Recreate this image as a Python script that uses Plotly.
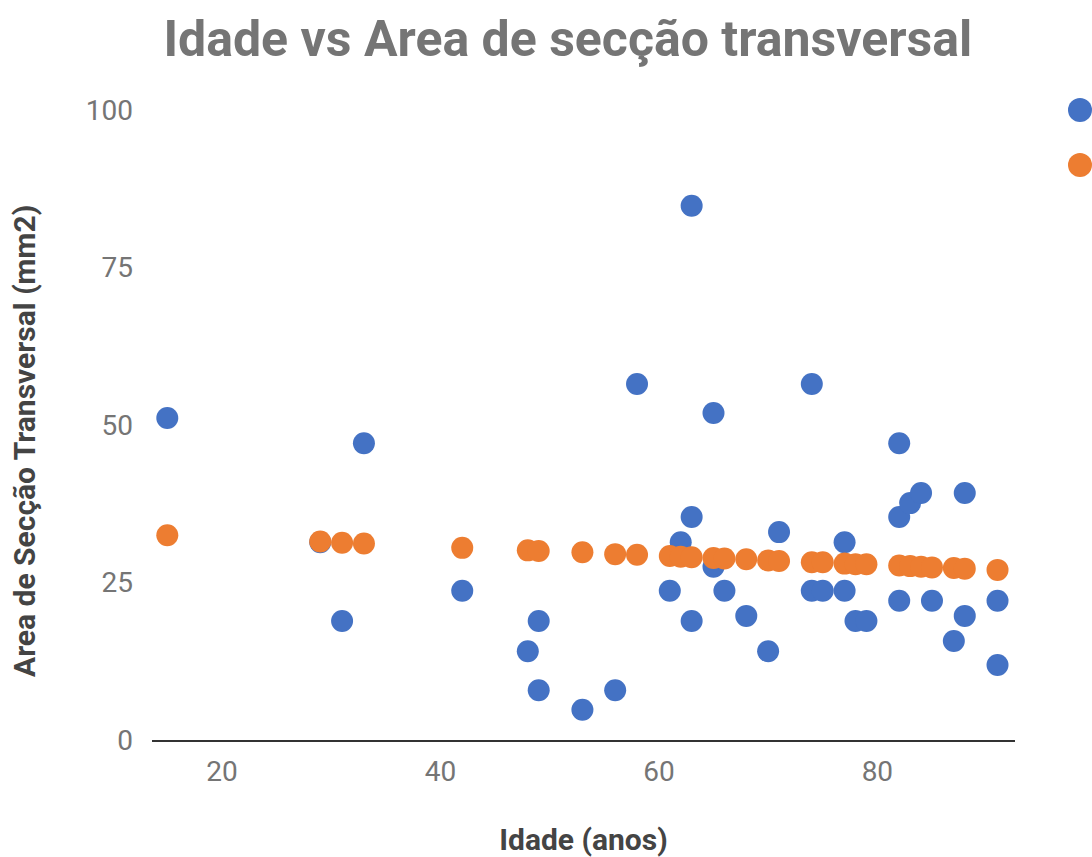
import plotly.graph_objects as go

# Blue series: age (anos) vs area (mm2)
idade = [15, 29, 31, 33, 42, 48, 49, 49, 53, 56, 58, 61, 62, 63, 63, 63, 65, 65, 66, 68,
         70, 71, 74, 74, 75, 77, 77, 78, 79, 82, 82, 82, 83, 84, 85, 87, 88, 88, 91, 91]
area = [51.1, 31.4, 18.9, 47.1, 23.7, 14.1, 18.9, 7.9, 4.8, 7.9, 56.5, 23.7, 31.4, 35.4, 84.8, 18.9,
        51.9, 27.5, 23.7, 19.7, 14.1, 33.0, 56.5, 23.7, 23.7, 31.4, 23.7, 18.9, 18.9, 47.1, 35.4,
        22.1, 37.6, 39.2, 22.1, 15.7, 39.2, 19.7, 22.1, 11.9]

# Orange series: trend values per age
idade_tend = [15, 29, 31, 33, 42, 48, 49, 53, 56, 58, 61, 62, 63, 65, 66, 68, 70, 71, 74, 75,
              77, 78, 79, 82, 83, 84, 85, 87, 88, 91]
area_tend = [32.5, 31.5, 31.3, 31.2, 30.5, 30.1, 30.0, 29.8, 29.5, 29.4, 29.2, 29.1, 29.0, 28.9,
             28.8, 28.7, 28.5, 28.4, 28.2, 28.2, 28.0, 27.9, 27.9, 27.7, 27.6, 27.5, 27.4, 27.3,
             27.2, 27.0]

y_ticks = [0, 25, 50, 75, 100]
x_ticks = [20, 40, 60, 80]

BLUE = "#4472C4"
ORANGE = "#ED7D31"

W, H = 1092, 857
ML, MR, MT, MB = 152, 77, 110, 117
PW, PH = W - ML - MR, H - MT - MB

fig = go.Figure()
fig.add_trace(go.Scatter(
    x=idade, y=area, mode="markers", name="Area",
    marker=dict(color=BLUE, size=22, line=dict(width=0)),
))
fig.add_trace(go.Scatter(
    x=idade_tend, y=area_tend, mode="markers", name="Tend",
    marker=dict(color=ORANGE, size=22, line=dict(width=0)),
))

# Legend symbols (legend text lies outside the visible canvas, as in the reference)
def legend_dot(cx_px, cy_px, color, r=12):
    return dict(
        type="circle", xref="paper", yref="paper",
        x0=(cx_px - r - ML) / PW, x1=(cx_px + r - ML) / PW,
        y0=(H - MB - cy_px - r) / PH, y1=(H - MB - cy_px + r) / PH,
        fillcolor=color, line=dict(width=0), layer="above",
    )

fig.update_layout(
    width=W, height=H,
    paper_bgcolor="white", plot_bgcolor="white",
    font=dict(family="Roboto, sans-serif", color="#757575"),
    title=dict(
        text="<b>Idade vs Area de secção transversal</b>",
        font=dict(size=50, color="#757575", family="Roboto, sans-serif"),
        x=0.52, xanchor="center", xref="container",
        y=1 - 38 / H, yanchor="middle", yref="container",
    ),
    margin=dict(l=ML, r=MR, t=MT, b=MB, autoexpand=False),
    showlegend=False,
    shapes=[legend_dot(1080, 110, BLUE), legend_dot(1080, 165, ORANGE)],
    annotations=[dict(
        text="<b>Area de Secção Transversal (mm2)</b>", textangle=-90,
        xref="paper", yref="paper",
        x=(24 - ML) / PW, y=(H - MB - 441) / PH,
        xanchor="center", yanchor="middle", showarrow=False,
        font=dict(size=30, color="#444444", family="Roboto, sans-serif"),
    )],
    xaxis=dict(
        range=[13.6, 92.6], tickvals=x_ticks, ticktext=[str(v) for v in x_ticks],
        showgrid=False, zeroline=False,
        showline=True, linecolor="#333333", linewidth=2,
        ticks="", tickfont=dict(size=28, color="#757575"),
        ticklabelstandoff=5,
        title=dict(text="<b>Idade (anos)</b>", font=dict(size=30, color="#444444"), standoff=45),
    ),
    yaxis=dict(
        range=[0, 100], tickvals=y_ticks, ticktext=[str(v) for v in y_ticks],
        showgrid=False, zeroline=False, showline=False,
        ticks="", tickfont=dict(size=28, color="#757575"),
        ticklabelstandoff=18,
    ),
)

fig.write_html(
    "out.html",
    config={"displayModeBar": False},
    post_script="document.body.style.margin='0';document.body.style.padding='0';",
)
